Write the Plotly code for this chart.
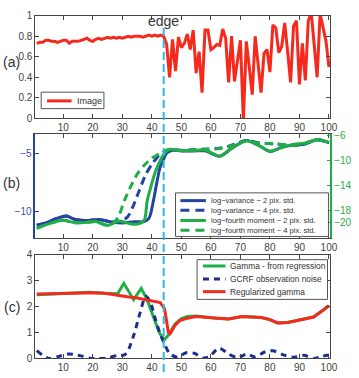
import plotly.graph_objects as go

W, H = 359, 378

# ---------------- data ----------------
x_ticks = [10, 20, 30, 40, 50, 60, 70, 80, 90, 100]
edge_x = 44

# (a) image intensity profile
img_x = list(range(1, 101))
img_y = [0.73, 0.74, 0.74, 0.76, 0.76, 0.75, 0.75, 0.74, 0.75, 0.76,
         0.76, 0.73, 0.75, 0.75, 0.75, 0.76, 0.77, 0.78, 0.76, 0.75,
         0.77, 0.78, 0.77, 0.78, 0.79, 0.78, 0.79, 0.78, 0.79, 0.78,
         0.79, 0.80, 0.79, 0.80, 0.80, 0.80, 0.79, 0.80, 0.81, 0.80,
         0.81, 0.80, 0.81, 0.80, 0.72, 0.40, 0.77, 0.46, 0.79, 0.69,
         0.73, 0.82, 0.67, 0.86, 0.44, 0.65, 0.25, 0.86, 0.86, 0.67,
         0.69, 0.72, 0.71, 0.87, 0.78, 0.35, 0.80, 0.36, 0.58, 0.76,
         -0.02, 0.75, 0.50, 0.23, 0.80, 0.55, 0.25, 0.63, 0.67, 0.45,
         0.91, 0.88, 0.64, 0.70, 0.93, 0.65, 0.35, 0.90, 0.95, 0.33,
         0.73, 0.37, 0.95, 1.03, 0.75, 0.40, 1.02, 0.90, 0.75, 0.50]

# (b) log-variance (left axis) and log-fourth moment (right axis)
lv2_x = [1, 4, 8, 11, 14, 18, 22, 26, 30, 34, 37, 39, 40.5, 41.7, 42.8, 44, 45,
         47, 50, 54, 58, 63, 67, 72, 76, 80, 84, 88, 92, 96, 100]
lv2_y = [-11.2, -11.0, -10.6, -10.4, -10.7, -10.8, -10.7, -10.9, -11.0, -10.9,
         -10.9, -10.6, -9.1, -7.5, -6.2, -5.5, -5.0, -4.75, -4.8, -4.8, -4.8,
         -5.25, -4.6, -3.9, -4.3, -4.85, -4.5, -4.3, -4.2, -3.85, -4.1]
lv4_x = [1, 4, 8, 11, 14, 18, 22, 26, 29, 31.7, 33.4, 35.6, 37.8, 40, 42.2,
         44.4, 47, 50, 54, 58, 62, 66, 72, 76, 82, 86, 90, 96, 100]
lv4_y = [-11.2, -11.0, -10.6, -10.4, -10.7, -10.8, -10.7, -10.9, -10.9, -10.5,
         -9.7, -8.3, -6.9, -5.95, -5.25, -4.83, -4.7, -4.75, -4.7, -4.65, -4.6,
         -4.4, -3.9, -4.1, -4.2, -4.3, -4.3, -3.85, -4.1]
fm2_x = [1, 3, 6, 10, 14, 18, 21, 25, 29, 33, 36, 37.5, 38.4, 39.5, 41.1, 42.8,
         44.4, 46.1, 50, 54, 58, 63, 67, 72, 76, 80, 84, 88, 92, 96, 100]
fm2_y = [-20.9, -20.5, -20.0, -19.6, -20.0, -19.9, -19.8, -20.4, -19.7, -20.2,
         -20.1, -19.5, -16.5, -14.5, -11.9, -10.05, -8.76, -8.2, -8.4, -8.4,
         -8.3, -9.3, -8.0, -6.8, -7.5, -8.5, -7.9, -7.4, -7.2, -6.6, -7.1]
fm4_x = [1, 3, 6, 10, 14, 18, 21, 25, 27, 28.7, 30.6, 32.8, 35, 37.5, 40, 42.2,
         44.5, 47, 50, 54, 58, 62, 66, 72, 76, 82, 86, 90, 96, 100]
fm4_y = [-20.9, -20.5, -20.0, -19.6, -20.0, -19.9, -19.8, -20.4, -20.0, -19.0,
         -16.5, -14.2, -12.2, -10.7, -9.6, -9.0, -8.35, -8.2, -8.4, -8.3, -8.2,
         -8.1, -7.8, -6.8, -7.2, -7.3, -7.5, -7.5, -6.7, -7.1]

# (c) gamma
greg_x = [1, 5, 10, 15, 19, 24, 28.4, 30.5, 33.8, 36.4, 38.4, 40.6, 42.6, 44.2,
          45.6, 47.8, 50, 52, 55, 58, 61.5, 66, 70.5, 74, 77.1, 80, 82.6, 86,
          90.4, 94.8, 98.1, 100]
greg_y = [2.46, 2.48, 2.5, 2.52, 2.56, 2.52, 2.5, 2.9, 2.27, 2.7, 2.27, 1.58,
          0.98, 0.72, 0.9, 1.32, 1.54, 1.62, 1.64, 1.6, 1.55, 1.52, 1.62, 1.6,
          1.58, 1.5, 1.37, 1.39, 1.5, 1.6, 1.87, 2.04]
noise_x = [1, 5, 8.5, 11.8, 16, 19.5, 25, 28.4, 30.5, 31.7, 34, 36.1, 37.9,
           39.4, 41.1, 42.8, 44.5, 46.1, 48.6, 51.6, 54.4, 57.2, 59.4, 62.7, 66,
           69.3, 72.1, 74.9, 78.2, 80.9, 84.8, 88.1, 91.5, 94.8, 97.6, 100]
noise_y = [0.3, 0.0, 0.08, 0.17, 0.1, 0.0, 0.02, 0.12, 0.13, 0.25, 0.95, 1.8,
           2.4, 2.2, 1.55, 0.95, 0.5, 0.18, 0.05, 0.22, 0.2, 0.02, 0.06, 0.4,
           0.17, 0.03, 0.17, 0.06, 0.25, 0.3, 0.13, 0.05, 0.12, 0.0, 0.08, 0.13]
grgl_x = [1, 5, 10, 15, 20, 24, 28.4, 31.7, 35, 38.4, 40.6, 42.8, 44.3, 45.6,
          46.2, 47.8, 49.4, 51.6, 54.9, 58, 61.5, 66, 70.5, 74, 77.1, 80, 82.6,
          86, 90.4, 94.8, 98.1, 100]
grgl_y = [2.49, 2.50, 2.51, 2.52, 2.54, 2.52, 2.43, 2.38, 2.33, 2.26, 2.2, 2.16,
          1.92, 1.0, 0.96, 1.27, 1.46, 1.54, 1.62, 1.6, 1.55, 1.52, 1.62, 1.6,
          1.58, 1.5, 1.37, 1.39, 1.5, 1.6, 1.87, 2.04]

# ---------------- styles ----------------
RED = "#f52a1c"
BLUE = "#2444a4"
NAVY = "#1b2d8f"
GREEN = "#1fae45"
CYAN = "#2fb6e6"
AX = "#444444"
TXT = "#444444"
FONT = "Liberation Sans"


def px_x(p):
    return p / W


def px_y(p):
    return (H - p) / H


XDOM = [px_x(36), px_x(337)]
DOM_A = [px_y(116), px_y(10)]
DOM_B = [px_y(240), px_y(132)]
DOM_C = [px_y(364), px_y(257)]
XR = [0.5, 100.5]

fig = go.Figure()

fig.add_trace(go.Scatter(x=img_x, y=img_y, mode="lines", xaxis="x", yaxis="y",
                         line=dict(color=RED, width=3), name="Image"))

fig.add_trace(go.Scatter(x=lv2_x, y=lv2_y, mode="lines", xaxis="x2", yaxis="y2",
                         line=dict(color=BLUE, width=3, shape="spline", smoothing=0.8),
                         name="log-variance - 2 pix. std."))
fig.add_trace(go.Scatter(x=lv4_x, y=lv4_y, mode="lines", xaxis="x2", yaxis="y2",
                         line=dict(color=BLUE, width=3, shape="spline", smoothing=0.8,
                                   dash="8px,5px"),
                         name="log-variance - 4 pix. std."))
fig.add_trace(go.Scatter(x=fm2_x, y=fm2_y, mode="lines", xaxis="x2", yaxis="y3",
                         line=dict(color=GREEN, width=3, shape="spline", smoothing=0.8),
                         name="log-fourth moment - 2 pix. std."))
fig.add_trace(go.Scatter(x=fm4_x, y=fm4_y, mode="lines", xaxis="x2", yaxis="y3",
                         line=dict(color=GREEN, width=3, shape="spline", smoothing=0.8,
                                   dash="8px,5px"),
                         name="log-fourth moment - 4 pix. std."))

fig.add_trace(go.Scatter(x=greg_x, y=greg_y, mode="lines", xaxis="x3", yaxis="y4",
                         line=dict(color=GREEN, width=3), name="Gamma - from regression"))
fig.add_trace(go.Scatter(x=noise_x, y=noise_y, mode="lines", xaxis="x3", yaxis="y4",
                         line=dict(color=NAVY, width=3, shape="spline", smoothing=0.8,
                                   dash="6px,5px"),
                         name="GCRF observation noise"))
fig.add_trace(go.Scatter(x=grgl_x, y=grgl_y, mode="lines", xaxis="x3", yaxis="y4",
                         line=dict(color=RED, width=3), name="Regularized gamma"))

tickfont = dict(family=FONT, size=10, color=TXT)


def xax(anchor):
    return dict(domain=XDOM, range=XR, anchor=anchor, tickvals=x_ticks,
                ticks="inside", ticklen=4, tickcolor=AX, showline=True,
                linecolor=AX, linewidth=1, mirror="ticks", showgrid=False,
                zeroline=False, tickfont=tickfont)


fig.update_layout(
    width=W, height=H, margin=dict(l=0, r=0, t=0, b=0),
    paper_bgcolor="white", plot_bgcolor="white", showlegend=False,
    font=dict(family=FONT, color=TXT),
    xaxis=xax("y"),
    xaxis2=xax("y2"),
    xaxis3=xax("y4"),
    yaxis=dict(domain=DOM_A, range=[0, 1], anchor="x",
               tickvals=[0, 0.2, 0.4, 0.6, 0.8, 1], ticktext=["0", "0.2", "0.4", "0.6", "0.8", "1"],
               ticks="inside", ticklen=4, tickcolor=AX, showline=True, linecolor=AX,
               mirror="ticks", showgrid=False, zeroline=False, tickfont=tickfont),
    yaxis2=dict(domain=DOM_B, range=[-12.33, -3.33], anchor="x2",
                tickvals=[-10, -5], ticks="inside", ticklen=4, tickcolor=BLUE,
                showline=True, linecolor=BLUE, linewidth=1.5, mirror=False,
                showgrid=False, zeroline=False,
                tickfont=dict(family=FONT, size=10, color="#3a4ea8")),
    yaxis3=dict(domain=DOM_B, range=[-22.5, -5.7], anchor="x2", overlaying="y2",
                side="right", tickvals=[-20, -18, -14, -10, -6], ticks="inside",
                ticklen=4, tickcolor=GREEN, showline=True, linecolor=GREEN,
                linewidth=1.5, showgrid=False, zeroline=False,
                tickfont=dict(family=FONT, size=10, color=GREEN)),
    yaxis4=dict(domain=DOM_C, range=[0, 4], anchor="x3", tickvals=[0, 1, 2, 3, 4],
                ticks="inside", ticklen=4, tickcolor=AX, showline=True, linecolor=AX,
                mirror="ticks", showgrid=False, zeroline=False, tickfont=tickfont),
)

shapes = []
# edge marker spanning all panels
shapes.append(dict(type="line", xref="x", yref="paper", x0=edge_x, x1=edge_x,
                   y0=px_y(378), y1=px_y(20),
                   line=dict(color=CYAN, width=2, dash="8px,4px")))

annotations = []
annotations.append(dict(text="edge", xref="x", yref="paper", x=edge_x, y=px_y(16),
                        showarrow=False, font=dict(family=FONT, size=14, color="#333"),
                        xanchor="center", yanchor="middle"))
for lab, py in [("(a)", 58), ("(b)", 183), ("(c)", 311)]:
    annotations.append(dict(text=lab, xref="paper", yref="paper", x=px_x(12),
                            y=px_y(py), showarrow=False,
                            font=dict(family=FONT, size=14, color="#333"),
                            xanchor="center", yanchor="middle"))


def legend_box(x0, y0, x1, y1, items, lx0, lx1, tx, fsize):
    shapes.append(dict(type="rect", xref="paper", yref="paper",
                       x0=px_x(x0), x1=px_x(x1), y0=px_y(y1), y1=px_y(y0),
                       line=dict(color="#555", width=1), fillcolor="white", layer="above"))
    for (label, color, dash, yy) in items:
        shapes.append(dict(type="line", xref="paper", yref="paper",
                           x0=px_x(lx0), x1=px_x(lx1), y0=px_y(yy), y1=px_y(yy),
                           line=dict(color=color, width=3, dash=dash), layer="above"))
        annotations.append(dict(text=label, xref="paper", yref="paper", x=px_x(tx),
                                y=px_y(yy), showarrow=False, xanchor="left",
                                yanchor="middle",
                                font=dict(family=FONT, size=fsize, color="#333")))


legend_box(42, 89, 106, 106, [("Image", RED, "solid", 98)], 48, 73, 76, 9)
legend_box(179, 193, 335, 238, [
    ("log\u2212variance \u2212 2 pix. std.", BLUE, "solid", 201),
    ("log\u2212variance \u2212 4 pix. std.", BLUE, "9px,6px", 211),
    ("log\u2212fourth moment \u2212 2 pix. std.", GREEN, "solid", 221.5),
    ("log\u2212fourth moment \u2212 4 pix. std.", GREEN, "9px,6px", 231.5),
], 184, 210, 213, 7.6)
legend_box(201, 262, 334, 303, [
    ("Gamma - from regression", GREEN, "solid", 268.5),
    ("GCRF observation noise", NAVY, "6px,5px", 282),
    ("Regularized gamma", RED, "solid", 295),
], 207, 230, 233, 8.4)

fig.update_layout(shapes=shapes, annotations=annotations)
fig.write_html("out.html")
